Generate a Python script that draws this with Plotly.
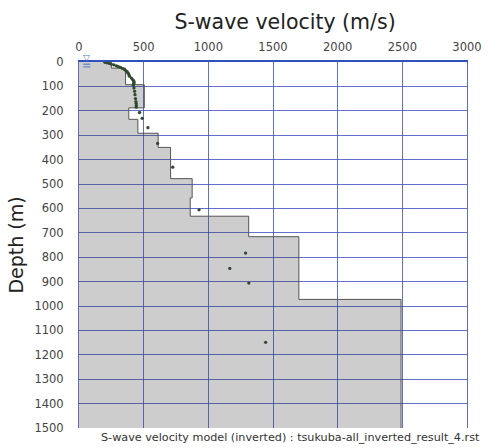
import plotly.graph_objects as go

# Layered S-wave velocity model (inverted)
layer_top_depth = [0, 25, 93, 188, 235, 292, 350, 478, 557, 632, 716, 973]
layer_velocity = [250, 360, 505, 385, 455, 612, 708, 875, 860, 1312, 1700, 2490]
model_bottom = 1500

# Observed / measured velocities (dots)
obs_velocity = [200, 215, 235, 250, 270, 290, 305, 320, 335, 350, 362, 372, 380, 386, 390,
                405, 415, 422, 426, 424, 420, 425, 430, 433, 437, 440, 442, 443, 443,
                468, 488, 533, 608, 725, 928, 1288, 1166, 1313, 1443]
obs_depth = [1, 3, 6, 9, 12, 16, 19, 22, 26, 30, 35, 40, 46, 52, 58,
             66, 72, 77, 82, 87, 95, 107, 120, 134, 150, 162, 170, 178, 185,
             207, 231, 269, 334, 431, 606, 783, 846, 906, 1149]

x_ticks = [0, 500, 1000, 1500, 2000, 2500, 3000]
y_ticks = list(range(0, 1600, 100))

water_table_velocity_pos = 60

step_x = layer_velocity + [layer_velocity[-1]]
step_y = layer_top_depth + [model_bottom]

FONT = "DejaVu Sans, Noto Sans, sans-serif"

fig = go.Figure()
fig.add_trace(go.Scatter(
    x=step_x, y=step_y, mode="lines", line_shape="vh",
    line=dict(color="#555555", width=1),
    fill="tozerox", fillcolor="rgba(60,60,60,0.26)",
    hoverinfo="skip", showlegend=False))
fig.add_trace(go.Scatter(
    x=obs_velocity, y=obs_depth, mode="markers",
    marker=dict(color="#2f4a2f", size=3.3),
    showlegend=False))
fig.add_trace(go.Scatter(
    x=[water_table_velocity_pos] * 2, y=[9, 20], mode="markers",
    marker=dict(symbol="line-ew-open", size=5, color="#4a78c8", line=dict(width=1, color="#4a78c8")),
    showlegend=False, hoverinfo="skip"))

grid_col = "rgba(45,65,185,0.75)"
fig.update_layout(
    width=494, height=448,
    margin=dict(l=79, r=20, t=62, b=20),
    paper_bgcolor="white", plot_bgcolor="white",
    font=dict(family=FONT, color="#333333"),
    title=dict(text="S-wave velocity (m/s)", x=0.577, xanchor="center", y=0.952, yanchor="middle",
               font=dict(size=20.5, color="#222222", family=FONT)),
    xaxis=dict(side="top", range=[0, 3000], tickvals=x_ticks, ticktext=[str(v) for v in x_ticks],
               showgrid=True, gridcolor=grid_col, gridwidth=1,
               showline=True, linecolor="#3050c0", linewidth=2, mirror=False,
               zeroline=False, ticks="outside", ticklen=4, tickcolor="rgba(0,0,0,0)",
               tickfont=dict(size=11.5, color="#444444")),
    yaxis=dict(range=[1500, 0], tickvals=y_ticks, ticktext=[str(v) for v in y_ticks],
               showgrid=True, gridcolor=grid_col, gridwidth=1,
               showline=True, linecolor="rgba(60,70,160,0.8)", linewidth=1, mirror=True,
               zeroline=False, ticks="outside", ticklen=12, tickcolor="rgba(0,0,0,0)",
               tickfont=dict(size=11.5, color="#444444"),
               title=dict(text="Depth (m)", font=dict(size=19, color="#222222", family=FONT), standoff=5)),
    annotations=[
        dict(text="S-wave velocity model (inverted) : tsukuba-all_inverted_result_4.rst",
             xref="paper", yref="paper", x=0.545, y=-0.027, xanchor="center", yanchor="middle",
             showarrow=False, font=dict(size=11.2, color="#333333", family=FONT)),
        dict(text="▽", xref="x", yref="y", x=water_table_velocity_pos, y=0, xanchor="center", yanchor="bottom",
             yshift=-3, showarrow=False, font=dict(size=9, color="#4a78c8", family=FONT)),
    ],
)
fig.write_html("out.html")
